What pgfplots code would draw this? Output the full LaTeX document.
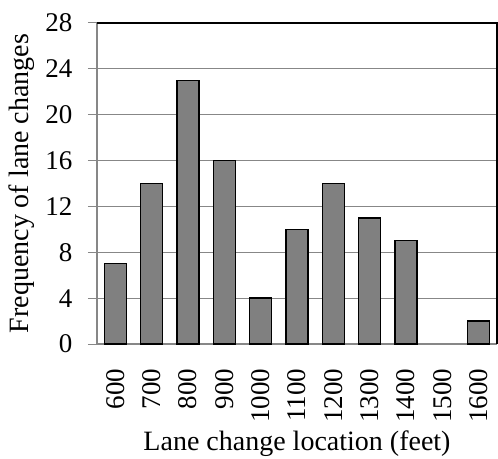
\documentclass[border=0pt]{standalone}
\usepackage{pgfplots}
\pgfplotsset{compat=1.18}
\usepackage{fontspec}
\setmainfont{Liberation Serif}

\definecolor{gridgray}{HTML}{878787}
\definecolor{barfill}{HTML}{808080}

\begin{document}
\begin{tikzpicture}
\begin{axis}[
    at={(0,0)}, anchor=south west,
    width=400pt, height=321pt, scale only axis,
    ybar, bar width=22pt,
    xmin=-0.5, xmax=10.5,
    ymin=0, ymax=28,
    ytick={0,4,...,28},
    xtick={0,...,10},
    xticklabels={600,700,800,900,1000,1100,1200,1300,1400,1500,1600},
    x tick label style={rotate=90, anchor=east, xshift=-12pt},
    y tick label style={xshift=-12pt},
    xtick style={draw=none},
    ytick style={gridgray, line width=1pt},
    tick align=outside, major tick length=9pt,
    axis lines*=left,
    axis line style={gridgray, line width=1.2pt, -},
    ymajorgrids,
    grid style={gridgray, line width=1pt},
    tick label style={font=\fontsize{27}{29}\selectfont},
    label style={font=\fontsize{28}{30}\selectfont},
    /pgf/number format/assume math mode=true,
    xlabel={Lane change location (feet)},
    ylabel={Frequency of lane changes},
    xlabel style={at={(axis description cs:0.5,0)}, anchor=base, yshift=-106pt},
    ylabel style={at={(axis description cs:0,0.5)}, anchor=center, yshift=75pt},
    clip=false,
]
\addplot[fill=barfill, draw=black, line width=1.3pt] coordinates {
    (0,7) (1,14) (2,23) (3,16) (4,4) (5,10)
    (6,14) (7,11) (8,9) (10,2)
};
\draw[black, line width=1.3pt] (rel axis cs:0,1) -- (rel axis cs:1,1) -- (rel axis cs:1,0);
\end{axis}
\pgfresetboundingbox
\path (-97pt,-114pt) rectangle (401pt,344pt);
\end{tikzpicture}
\end{document}
